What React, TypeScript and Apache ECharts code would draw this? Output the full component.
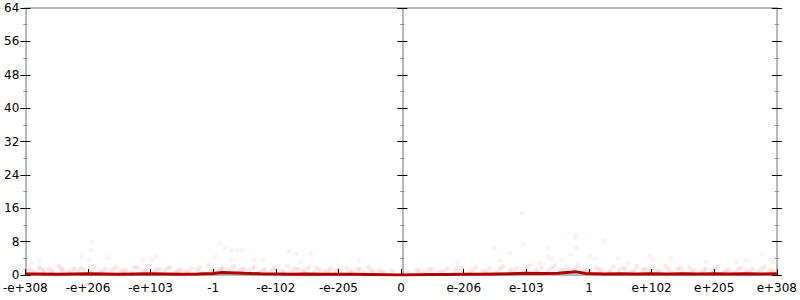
import React, { useEffect, useRef } from "react";
import * as echarts from "echarts";

const tickLabels = ["-e+308", "-e+206", "-e+103", "-1", "-e-102", "-e-205", "0", "e-206", "e-103", "1", "e+102", "e+205", "e+308"];

const lineX = [-6, -5.75, -5.5, -5.25, -5, -4.75, -4.5, -4.25, -4, -3.75, -3.5, -3.25, -3, -2.85, -2.75, -2.5, -2.25, -2, -1.75, -1.5, -1.25, -1, -0.75, -0.5, -0.25, 0, 0.25, 0.5, 0.75, 1, 1.25, 1.5, 1.75, 2, 2.25, 2.5, 2.65, 2.8, 2.95, 3.25, 3.5, 3.75, 4, 4.25, 4.5, 4.75, 5, 5.25, 5.5, 5.75, 6];
const lineY = [0.25, 0.25, 0.2, 0.25, 0.3, 0.25, 0.2, 0.25, 0.3, 0.25, 0.2, 0.25, 0.35, 0.6, 0.55, 0.4, 0.3, 0.25, 0.2, 0.25, 0.2, 0.15, 0.15, 0.1, 0.05, 0.0, 0.05, 0.1, 0.1, 0.15, 0.2, 0.25, 0.3, 0.4, 0.35, 0.4, 0.6, 0.75, 0.35, 0.25, 0.3, 0.25, 0.3, 0.25, 0.3, 0.25, 0.3, 0.25, 0.3, 0.25, 0.3];

const bandPoints = [
  [-5.95, 1.2], [-5.85, 0.6], [-5.78, 1.8], [-5.7, 0.9], [-5.62, 1.5], [-5.55, 0.5], [-5.47, 2.1], [-5.4, 1.1], [-5.31, 0.7], [-5.22, 1.6],
  [-5.15, 0.9], [-5.06, 1.3], [-4.98, 0.6], [-4.9, 2.0], [-4.81, 1.0], [-4.73, 1.4], [-4.64, 0.5], [-4.55, 1.8], [-4.47, 0.8], [-4.39, 1.2],
  [-4.3, 0.6], [-4.21, 1.7], [-4.12, 1.0], [-4.04, 2.2], [-3.95, 0.7], [-3.86, 1.4], [-3.78, 0.9], [-3.69, 1.9], [-3.6, 0.6], [-3.52, 1.3],
  [-3.43, 0.8], [-3.35, 1.6], [-3.26, 1.1], [-3.17, 0.5], [-3.08, 2.3], [-3.0, 1.2], [-2.92, 0.9], [-2.85, 1.7], [-2.77, 1.0], [-2.68, 2.0],
  [-2.6, 0.7], [-2.51, 1.5], [-2.43, 0.9], [-2.34, 1.9], [-2.26, 0.6], [-2.17, 1.3], [-2.08, 0.8], [-2.0, 1.6], [-1.91, 1.0], [-1.82, 2.1],
  [-1.74, 0.7], [-1.65, 1.4], [-1.57, 0.9], [-1.48, 1.8], [-1.39, 0.6], [-1.3, 1.2], [-1.22, 0.8], [-1.13, 1.5], [-1.04, 1.0], [-0.96, 0.5],
  [-0.87, 1.7], [-0.78, 0.9], [-0.7, 1.3], [-0.61, 0.6], [-0.52, 1.9], [-0.44, 0.8], [-0.35, 1.1], [-0.26, 0.5], [-0.15, 1.0], [0.12, 0.6],
  [0.25, 1.1], [0.38, 0.7], [0.5, 1.4], [0.62, 0.8], [0.74, 1.6], [0.86, 0.9], [0.97, 1.3], [1.08, 0.6], [1.19, 1.8], [1.3, 1.0],
  [1.41, 1.5], [1.52, 0.7], [1.63, 2.0], [1.74, 1.1], [1.85, 1.6], [1.95, 0.8], [2.05, 2.2], [2.15, 1.2], [2.25, 1.7], [2.35, 0.9],
  [2.45, 2.1], [2.55, 1.3], [2.65, 1.9], [2.74, 1.0], [2.83, 2.3], [2.92, 1.4], [3.02, 0.8], [3.11, 1.7], [3.2, 1.1], [3.3, 0.6],
  [3.39, 1.9], [3.48, 1.0], [3.58, 1.4], [3.67, 0.7], [3.76, 2.0], [3.86, 1.2], [3.95, 0.8], [4.04, 1.6], [4.13, 1.0], [4.23, 2.1],
  [4.32, 0.7], [4.41, 1.4], [4.5, 0.9], [4.6, 1.8], [4.69, 1.1], [4.78, 0.6], [4.87, 1.5], [4.96, 1.0], [5.06, 2.0], [5.15, 0.8],
  [5.24, 1.3], [5.33, 0.6], [5.43, 1.7], [5.52, 1.0], [5.61, 1.4], [5.7, 0.7], [5.8, 1.9], [5.89, 1.1], [5.97, 0.6]
];

const bandPoints2 = [
  [-5.9, 0.9], [-5.74, 1.3], [-5.58, 0.8], [-5.43, 1.5], [-5.27, 1.0], [-5.11, 1.7], [-4.94, 1.1], [-4.77, 0.7], [-4.6, 1.4], [-4.43, 1.0],
  [-4.26, 1.9], [-4.08, 0.8], [-3.91, 1.3], [-3.73, 1.6], [-3.56, 1.0], [-3.39, 0.7], [-3.22, 1.8], [-3.04, 1.0], [-2.88, 1.4], [-2.72, 0.8],
  [-2.55, 1.2], [-2.38, 1.6], [-2.21, 1.0], [-2.04, 1.3], [-1.87, 0.8], [-1.7, 1.5], [-1.53, 1.1], [-1.35, 1.7], [-1.18, 0.9], [-1.0, 1.3],
  [-0.83, 0.8], [-0.66, 1.5], [-0.48, 1.1], [-0.3, 0.8], [0.3, 0.9], [0.45, 1.3], [0.68, 1.0], [0.9, 1.6], [1.13, 1.1], [1.35, 0.8],
  [1.58, 1.5], [1.8, 1.0], [2.0, 1.4], [2.2, 0.8], [2.4, 1.6], [2.6, 1.1], [2.78, 1.5], [2.97, 1.0], [3.16, 1.4], [3.34, 0.9],
  [3.53, 1.7], [3.72, 1.1], [3.9, 1.5], [4.09, 0.8], [4.27, 1.3], [4.46, 1.7], [4.64, 0.9], [4.83, 1.2], [5.01, 1.6], [5.2, 1.0],
  [5.38, 1.4], [5.57, 0.8], [5.75, 1.3], [5.93, 1.0]
];

const spreadPoints = [
  [-4.93, 7.9], [-4.95, 5.9], [-5.77, 3.5], [-5.1, 4.3], [-4.98, 3.5], [-4.68, 4.2], [-4.12, 3.5], [-3.98, 3.7], [-3.91, 4.4], [-5.9, 2.8],
  [-2.9, 7.6], [-2.81, 6.6], [-2.71, 5.9], [-2.62, 5.9], [-2.54, 5.9], [-2.96, 4.3], [-2.19, 3.9], [-1.79, 5.7], [-1.67, 5.1], [-1.44, 5.2],
  [-1.6, 3.1], [-0.68, 3.5], [-2.72, 3.5], [-2.35, 3.5], [1.93, 14.9], [1.95, 7.3], [2.79, 9.7], [2.78, 8.9], [2.8, 6.4], [2.7, 4.9],
  [1.49, 6.4], [1.74, 5.2], [2.35, 6.3], [2.35, 4.4], [2.4, 3.9], [0.9, 3.1], [1.58, 3.5], [2.22, 2.8], [2.56, 3.5], [3.01, 4.3],
  [3.25, 8.1], [3.09, 3.9], [3.62, 2.7], [3.96, 4.4], [4.02, 3.5], [4.31, 3.9], [5.77, 4.9], [4.87, 3.1], [5.35, 3.1], [5.51, 3.5],
  [3.46, 3.9], [5.93, 3.1]
];

const FONT = "DejaVu Sans";

function yAx(position: string, inside: boolean, offset: number, labels: boolean, line: boolean) {
  return {
    type: "value",
    position,
    offset,
    min: 0,
    max: 64,
    interval: 8,
    axisLine: { show: line, onZero: false, lineStyle: { color: "#b8b8b8", width: 2 } },
    axisTick: { show: true, inside, length: 5, lineStyle: { color: "#000", width: 1 } },
    minorTick: { show: true, splitNumber: 2, length: 2, lineStyle: { color: "#888", width: 1 } },
    axisLabel: { show: labels, margin: 6, color: "#000", fontFamily: FONT, fontSize: 12 },
    splitLine: { show: false },
    minorSplitLine: { show: false },
  };
}

export default function App() {
  const ref = useRef<HTMLDivElement>(null);
  useEffect(() => {
    document.body.style.margin = "0";
    const chart = echarts.init(ref.current!, null, { renderer: "svg" });
    chart.setOption({
      animation: false,
      backgroundColor: "#fff",
      grid: { left: 24, right: 22, top: 8, bottom: 25, containLabel: false },
      xAxis: [
        {
          type: "value",
          min: -6,
          max: 6,
          interval: 1,
          position: "bottom",
          axisLine: { show: true, onZero: false, lineStyle: { color: "#b8b8b8", width: 2 } },
          axisTick: { show: true, inside: true, length: 6, lineStyle: { color: "#000", width: 1 } },
          axisLabel: {
            color: "#000",
            fontFamily: FONT,
            fontSize: 12,
            margin: 7,
            formatter: (v: number) => tickLabels[Math.round(v) + 6],
          },
          splitLine: { show: false },
        },
        {
          type: "value",
          min: -6,
          max: 6,
          interval: 1,
          position: "top",
          axisLine: { show: true, onZero: false, lineStyle: { color: "#b8b8b8", width: 2 } },
          axisTick: { show: false },
          axisLabel: { show: false },
          splitLine: { show: false },
        },
      ],
      yAxis: [
        yAx("left", false, 0, true, true),
        yAx("left", true, 0, false, false),
        yAx("right", false, 0, false, true),
        yAx("right", true, 0, false, false),
        yAx("left", false, -377, false, true),
        yAx("left", true, -377, false, false),
      ],
      series: [
        {
          type: "scatter",
          data: bandPoints,
          symbolSize: 5,
          itemStyle: { color: "rgba(255,0,0,0.12)" },
          z: 2,
        },
        {
          type: "scatter",
          data: bandPoints2,
          symbolSize: 5,
          itemStyle: { color: "rgba(255,0,0,0.12)" },
          z: 2,
        },
        {
          type: "scatter",
          data: spreadPoints,
          symbolSize: 5,
          itemStyle: { color: "rgba(255,0,0,0.07)" },
          z: 2,
        },
        {
          type: "line",
          data: lineX.map((x, i) => [x, lineY[i]]),
          showSymbol: false,
          lineStyle: { color: "#b00000", width: 3 },
          z: 3,
        },
      ],
    });
    return () => chart.dispose();
  }, []);
  return <div ref={ref} style={{ width: 800, height: 300 }} />;
}
